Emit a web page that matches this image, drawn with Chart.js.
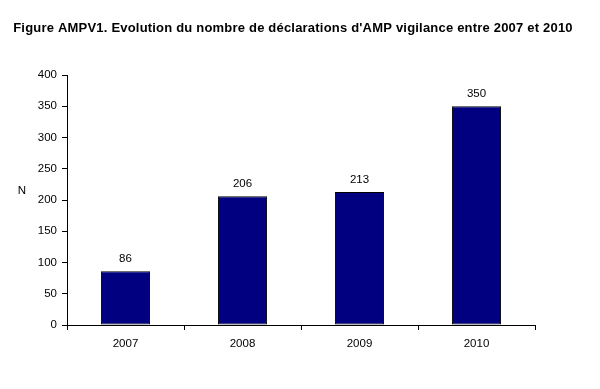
<!DOCTYPE html>
<html>
<head>
<meta charset="utf-8">
<script src="https://cdn.jsdelivr.net/npm/chart.js@4/dist/chart.umd.min.js"></script>
<style>
  body { margin: 0; background: #fff; }
</style>
</head>
<body>
<canvas id="myChart" width="600" height="389"></canvas>
<script>
  // data block
  const years = ['2007', '2008', '2009', '2010'];
  const declarations = [86, 206, 213, 350];
  const yTicks = [0, 50, 100, 150, 200, 250, 300, 350, 400];

  const titleText = "Figure AMPV1. Evolution du nombre de déclarations d'AMP vigilance entre 2007 et 2010";
  const fontFamily = '"Liberation Sans", Arial, sans-serif';

  // draws title, the upright "N" and the value labels
  const extras = {
    id: 'extras',
    afterDraw(chart) {
      const ctx = chart.ctx;
      ctx.save();
      ctx.fillStyle = '#000';
      ctx.textAlign = 'center';
      ctx.textBaseline = 'middle';
      ctx.font = 'bold 13px ' + fontFamily;
      ctx.letterSpacing = '0.2px';
      ctx.fillText(titleText, 293, 28);
      ctx.letterSpacing = '0px';

      ctx.font = '11.5px ' + fontFamily;
      ctx.fillText('N', 22, 191);

      const meta = chart.getDatasetMeta(0);
      meta.data.forEach(function(bar, i) {
        ctx.fillText(String(declarations[i]), bar.x, bar.y - 12);
      });
      ctx.restore();
    }
  };

  const data = {
    labels: years,
    datasets: [{
      data: declarations,
      backgroundColor: '#000080',
      borderColor: '#000',
      borderWidth: 1,
      borderSkipped: false,
      categoryPercentage: 1,
      barPercentage: 0.42
    }]
  };

  const config = {
    type: 'bar',
    data: data,
    plugins: [extras],
    options: {
      responsive: false,
      animation: false,
      layout: { padding: { top: 75, right: 65, bottom: 0, left: 0 } },
      plugins: {
        legend: { display: false },
        tooltip: { enabled: false },
        title: { display: false }
      },
      scales: {
        x: {
          offset: true,
          grid: { offset: true, drawOnChartArea: false, tickLength: 5, color: '#000' },
          border: { color: '#000' },
          ticks: { color: '#000', padding: 7, font: { family: fontFamily, size: 11.5 } },
          afterFit(scale) { scale.height = 64; }
        },
        y: {
          min: 0,
          max: 400,
          afterBuildTicks(scale) { scale.ticks = yTicks.map(v => ({ value: v })); },
          grid: { drawOnChartArea: false, tickLength: 5, color: '#000' },
          border: { color: '#000' },
          ticks: { color: '#000', padding: 5, font: { family: fontFamily, size: 11.5 } },
          afterFit(scale) { scale.width = 67; }
        }
      }
    }
  };

  const myChart = new Chart(document.getElementById('myChart'), config);
</script>
</body>
</html>
